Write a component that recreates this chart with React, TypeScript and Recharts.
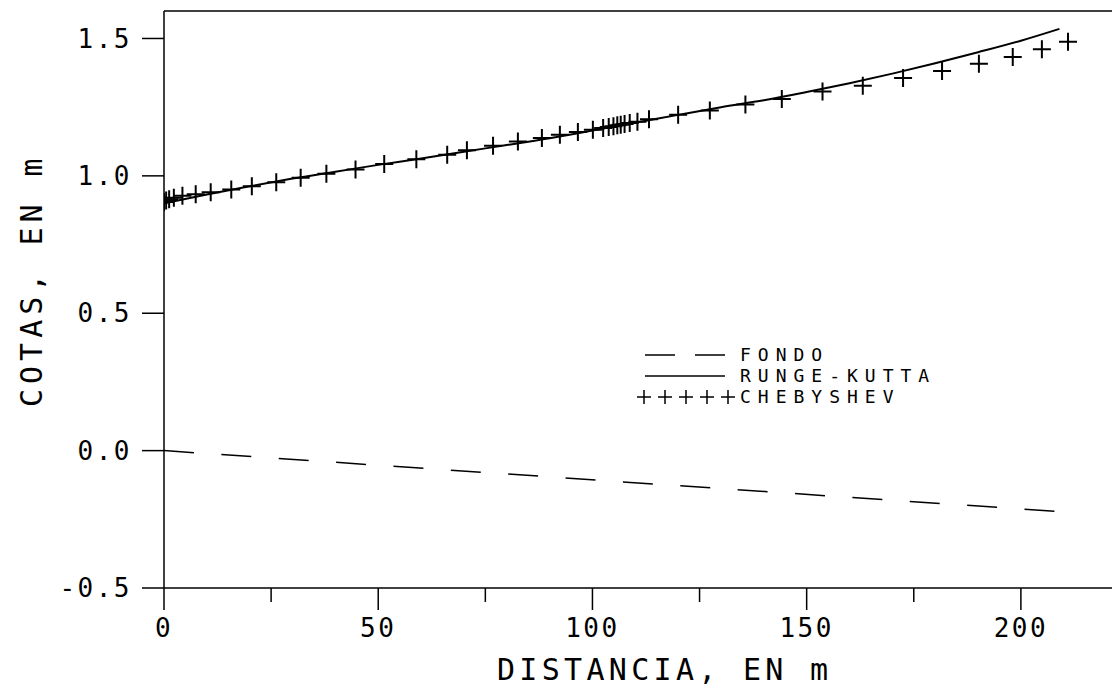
import React from "react";
import { ComposedChart, Line, Scatter, XAxis, YAxis, ReferenceLine, Legend } from "recharts";

const FONT = "'DejaVu Sans Mono', monospace";

// bed profile
const fondoX = [0, 209];
const fondoY = [0, -0.222];

// water surface, Runge-Kutta
const rungeX = [0, 10, 20, 30, 40, 50, 60, 70, 80, 90, 100, 110, 120, 130, 140, 150, 160, 170, 180, 190, 200, 209];
const rungeY = [0.9, 0.932, 0.962, 0.99, 1.015, 1.04, 1.063, 1.088, 1.112, 1.137, 1.165, 1.193, 1.222, 1.25, 1.275, 1.305, 1.337, 1.372, 1.41, 1.45, 1.492, 1.535];

// water surface, Chebyshev nodes
const chebX = [0, 0.5, 1.2, 2.3, 4.3, 7.4, 10.9, 15.7, 20.5, 26.2, 31.9, 37.9, 44.7, 51.4, 58.9, 66.1, 70.7, 76.8, 82.6, 88.2, 92.4, 96.6, 100.1, 102.5, 103.8, 104.9, 105.8, 106.6, 107.5, 108.7, 110.5, 113.2, 120, 127.4, 135.7, 144.2, 153.7, 163.1, 172.5, 181.6, 190.2, 198.1, 204.9, 211];
const chebY = [0.905, 0.91, 0.915, 0.92, 0.928, 0.933, 0.94, 0.95, 0.962, 0.977, 0.993, 1.008, 1.023, 1.043, 1.06, 1.077, 1.093, 1.11, 1.125, 1.138, 1.15, 1.16, 1.168, 1.174, 1.178, 1.181, 1.184, 1.186, 1.189, 1.192, 1.197, 1.206, 1.222, 1.238, 1.26, 1.28, 1.307, 1.328, 1.356, 1.382, 1.408, 1.433, 1.461, 1.488];

const xTicks = [0, 25, 50, 75, 100, 125, 150, 175, 200, 225];
const yTicks = [-0.5, 0, 0.5, 1, 1.5];
const legendOrder = ["FONDO", "RUNGE-KUTTA", "CHEBYSHEV"];

const fondo = fondoX.map((x, i) => ({ x, y: fondoY[i] }));
const runge = rungeX.map((x, i) => ({ x, y: rungeY[i] }));
const cheb = chebX.map((x, i) => ({ x, y: chebY[i] }));

const XTick = (props: any) => {
  const { x, y, payload } = props;
  const major = payload.value % 50 === 0;
  return (
    <g>
      <line x1={x} y1={y} x2={x} y2={y + (major ? 22 : 14)} stroke="#000" strokeWidth={1.5} />
      {major && (
        <text x={x} y={y + 49} textAnchor="middle" fontFamily={FONT} fontSize={26} letterSpacing={2.5} fill="#000">
          {payload.value}
        </text>
      )}
    </g>
  );
};

const Cross = (props: any) => {
  const { cx, cy } = props;
  if (cx == null || cy == null) return null;
  return <path d={`M${cx - 9},${cy}H${cx + 9}M${cx},${cy - 9}V${cy + 9}`} stroke="#000" strokeWidth={2} fill="none" />;
};

const legendIcon = (name: string) => {
  if (name === "FONDO") return <line x1={8} y1={10} x2={88} y2={10} stroke="#000" strokeWidth={1.5} strokeDasharray="30 20" />;
  if (name === "RUNGE-KUTTA") return <line x1={8} y1={10} x2={88} y2={10} stroke="#000" strokeWidth={1.5} />;
  return (
    <g stroke="#000" strokeWidth={1.5}>
      {[7, 28, 49, 70, 91].map((c) => (
        <path key={c} d={`M${c - 7},10H${c + 7}M${c},3V17`} />
      ))}
    </g>
  );
};

const LegendBox = ({ payload }: any) => {
  const items = [...(payload || [])].sort((a: any, b: any) => legendOrder.indexOf(a.value) - legendOrder.indexOf(b.value));
  return (
    <div style={{ fontFamily: FONT, fontSize: 18, letterSpacing: 7, color: "#000", lineHeight: "21px" }}>
      {items.map((p: any) => (
        <div key={p.value} style={{ display: "flex", alignItems: "center", height: 21 }}>
          <svg width={100} height={20}>{legendIcon(p.value)}</svg>
          <span style={{ marginLeft: 3, lineHeight: "21px" }}>{p.value}</span>
        </div>
      ))}
    </div>
  );
};

export default function App() {
  return (
    <div style={{ width: 1110, height: 682, overflow: "hidden", background: "#fff" }}>
      <ComposedChart width={1125} height={682} margin={{ top: 3, right: 5, left: 0, bottom: 0 }}>
        <XAxis
          dataKey="x"
          type="number"
          domain={[0, 225]}
          ticks={xTicks}
          allowDataOverflow
          height={102}
          tickSize={0}
          tickMargin={0}
          tickLine={false}
          tick={<XTick />}
          axisLine={{ stroke: "#000", strokeWidth: 1.5 }}
          label={{
            content: ({ viewBox }: any) => (
              <text x={viewBox.x + 333} y={viewBox.y + 92} fontFamily={FONT} fontSize={30} letterSpacing={4.3} fill="#000">
                DISTANCIA, EN m
              </text>
            ),
          }}
        />
        <YAxis
          type="number"
          domain={[-0.5, 1.6]}
          ticks={yTicks}
          allowDataOverflow
          width={156}
          tickSize={22}
          tickMargin={10}
          tickLine={{ stroke: "#000", strokeWidth: 1.5 }}
          axisLine={{ stroke: "#000", strokeWidth: 1.5 }}
          tickFormatter={(v: number) => v.toFixed(1)}
          tick={{ fill: "#000", fontFamily: FONT, fontSize: 26, letterSpacing: 2.5 }}
          label={{
            content: ({ viewBox }: any) => (
              <text
                x={34}
                y={viewBox.y + 396}
                transform={`rotate(-90, 34, ${viewBox.y + 396})`}
                fontFamily={FONT}
                fontSize={30}
                letterSpacing={5}
                fill="#000"
              >
                COTAS, EN m
              </text>
            ),
          }}
        />
        <ReferenceLine y={1.6} stroke="#000" strokeWidth={1.5} />
        <Line data={fondo} dataKey="y" name="FONDO" stroke="#000" strokeWidth={1.5} strokeDasharray="30 27.5" dot={false} isAnimationActive={false} />
        <Line data={runge} dataKey="y" name="RUNGE-KUTTA" type="monotone" stroke="#000" strokeWidth={2} dot={false} isAnimationActive={false} />
        <Scatter data={cheb} dataKey="y" name="CHEBYSHEV" fill="#000" shape={<Cross />} isAnimationActive={false} />
        <Legend
          layout="vertical"
          align="center"
          verticalAlign="middle"
          content={<LegendBox />}
          wrapperStyle={{ left: 629, top: 336, width: 400 }}
        />
      </ComposedChart>
    </div>
  );
}
